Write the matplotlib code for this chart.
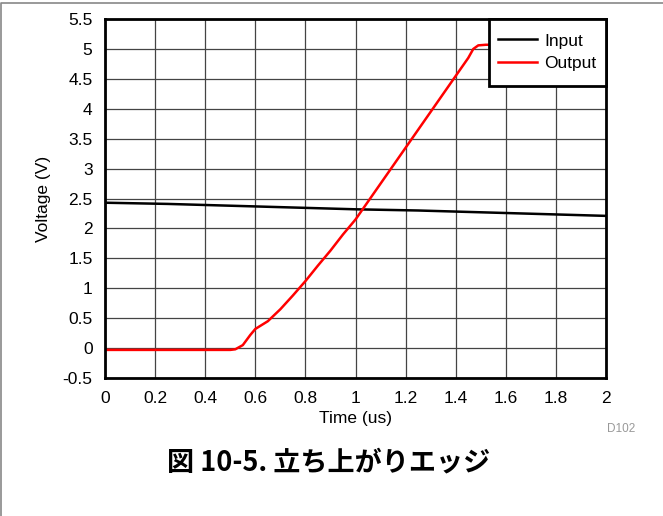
import matplotlib.pyplot as plt
from matplotlib.patches import Rectangle
from matplotlib.lines import Line2D

plt.rcParams['font.family'] = ['Liberation Sans', 'Noto Sans CJK JP', 'DejaVu Sans']

# input trace (slowly drooping)
t_in = [0.0, 0.25, 0.5, 0.75, 1.0, 1.25, 1.5, 1.75, 2.0]
v_in = [2.43, 2.41, 2.38, 2.35, 2.32, 2.30, 2.27, 2.24, 2.21]

# output trace (rising edge)
t_out = [0.0, 0.1, 0.2, 0.3, 0.4, 0.5, 0.52, 0.55, 0.58, 0.6, 0.65, 0.7, 0.75,
         0.8, 0.85, 0.9, 0.95, 1.0, 1.05, 1.1, 1.15, 1.2, 1.25, 1.3, 1.35,
         1.4, 1.45, 1.47, 1.49, 1.52, 2.0]
v_out = [-0.03, -0.03, -0.03, -0.03, -0.03, -0.03, -0.02, 0.05, 0.22, 0.32, 0.45,
         0.65, 0.88, 1.12, 1.38, 1.63, 1.9, 2.15, 2.45, 2.75, 3.05, 3.35, 3.65,
         3.95, 4.25, 4.55, 4.85, 5.0, 5.06, 5.07, 5.07]

xticks = [0, 0.2, 0.4, 0.6, 0.8, 1, 1.2, 1.4, 1.6, 1.8, 2]
yticks = [-0.5, 0, 0.5, 1, 1.5, 2, 2.5, 3, 3.5, 4, 4.5, 5, 5.5]

fig = plt.figure(figsize=(6.63, 5.16), dpi=100)
ax = fig.add_axes([0.1584, 0.2674, 0.7557, 0.6957])

ax.plot(t_in, v_in, color='black', lw=1.8, label='Input')
ax.plot(t_out, v_out, color='red', lw=1.8, label='Output')

ax.set_xlim(0, 2)
ax.set_ylim(-0.5, 5.5)
ax.set_xticks(xticks)
ax.set_xticklabels([f'{v:g}' for v in xticks])
ax.set_yticks(yticks)
ax.set_yticklabels([f'{v:g}' for v in yticks])
ax.tick_params(length=0, labelsize=12.5, pad=9)
ax.grid(True, color='#444444', lw=0.9)
for s in ax.spines.values():
    s.set_linewidth(2)

ax.set_xlabel('Time (us)', fontsize=12.5, labelpad=4)
ax.set_ylabel('Voltage (V)', fontsize=12.5, labelpad=8)

# legend box (taller than matplotlib's own frame would be)
box = (0.766, 0.814, 0.234, 0.186)
ax.add_patch(Rectangle(box[:2], box[2], box[3], transform=ax.transAxes,
                       facecolor='white', edgecolor='black', lw=2,
                       zorder=4.5, clip_on=False))
ax.legend(loc='center', bbox_to_anchor=box, fontsize=12.5, frameon=False,
          handlelength=2.2, handletextpad=0.45, labelspacing=0.45,
          borderpad=0.2, borderaxespad=0)

fig.text(0.958, 0.162, 'D102', fontsize=8.5, color='#999999', ha='right')
fig.text(0.495, 0.088, '図 10-5. 立ち上がりエッジ', fontsize=19.5, fontweight='bold',
         ha='center', family=['Noto Sans CJK JP', 'Liberation Sans'])

# page border: only top and left edges
fig.add_artist(Line2D([0.001, 0.001, 1], [0, 0.995, 0.995], transform=fig.transFigure,
                      color='#888888', lw=1.2))

fig.savefig('out.png')
